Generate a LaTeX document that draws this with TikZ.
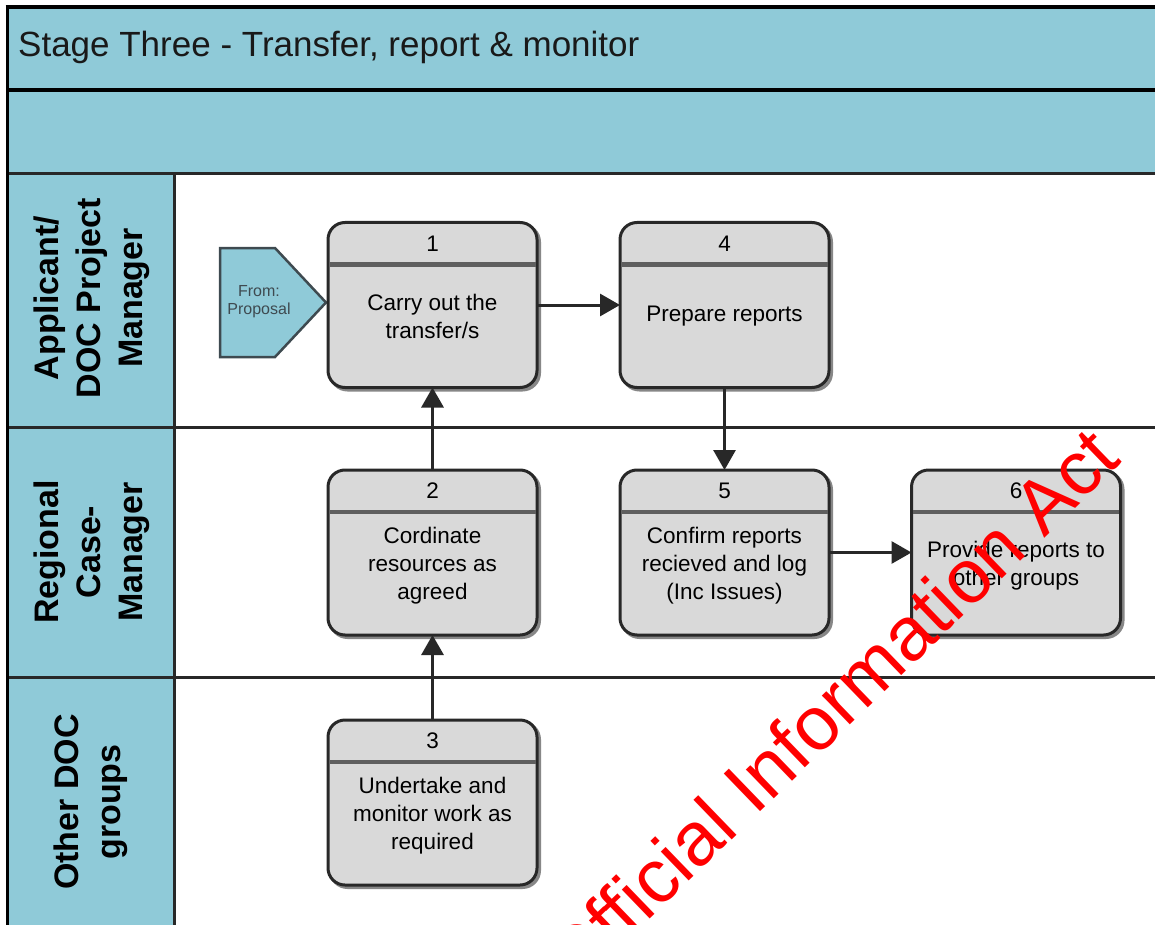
\documentclass[tikz,border=0pt]{standalone}
\usepackage{fontspec}
\setmainfont{Liberation Sans}
\usetikzlibrary{arrows.meta,calc,shadows}

\definecolor{laneblue}{RGB}{143,202,216}
\definecolor{boxgray}{RGB}{217,217,217}
\definecolor{edgedark}{RGB}{40,40,40}
\definecolor{divgray}{RGB}{95,95,95}
\definecolor{shadowgray}{RGB}{135,135,135}
\definecolor{srctext}{RGB}{62,74,80}

\tikzset{
  frame/.style={draw=black, line width=3.5pt},
  laneline/.style={draw=edgedark, line width=3pt},
  procbox/.style={draw=edgedark, fill=boxgray, line width=3pt, rounded corners=17pt,
    minimum width=209pt, minimum height=165pt, inner sep=0pt, outer sep=0pt,
    general shadow={shadow xshift=2.5pt, shadow yshift=-2.5pt, fill=shadowgray,
      draw=shadowgray, line width=3pt, rounded corners=17pt}},
  divider/.style={draw=divgray, line width=4.5pt},
  numtext/.style={font=\fontsize{22.5}{28}\selectfont, inner sep=0pt},
  bodytext/.style={font=\fontsize{22.5}{28}\selectfont, align=center, inner sep=0pt},
  flow/.style={draw=edgedark, line width=3pt, -{Triangle[length=20pt,width=22pt]}},
  lanelabel/.style={font=\fontsize{34}{42}\selectfont\bfseries, align=center,
    inner sep=0pt, rotate=90},
  srcshape/.style={draw=srctext, fill=laneblue, line width=2.5pt, line join=miter},
  srclabel/.style={font=\fontsize{16}{18}\selectfont, text=srctext, align=center, inner sep=0pt},
  watermark/.style={font=\fontsize{76}{80}\selectfont, text=red, inner sep=0pt}
}

\begin{document}
\begin{tikzpicture}[x=1pt,y=-1pt]
\useasboundingbox (0,0) rectangle (1155,925);
\begin{scope}
\clip (0,0) rectangle (1155,925);
\fill[white] (0,0) rectangle (1155,925);

% title bands and lane header column
\fill[laneblue] (7,7) rectangle (1160,173);
\fill[laneblue] (7,173) rectangle (174,930);

% swimlane grid
\draw[laneline] (7,173.5) -- (1160,173.5);
\draw[laneline] (7,427.5) -- (1160,427.5);
\draw[laneline] (7,677) -- (1160,677);
\draw[laneline] (174,173) -- (174,930);
\draw[frame] (7,90) -- (1160,90);
\draw[frame] (5.5,7) -- (1160,7);
\draw[frame] (7.5,5.5) -- (7.5,930);

% title
\node[font=\fontsize{35}{40}\selectfont, text=black!90, anchor=base west, inner sep=0pt]
  (title) at (18,57) {Stage Three - Transfer, report \& monitor};

% lane labels
\node[lanelabel] (laneA) at (92,298) {Applicant/\\DOC Project\\Manager};
\node[lanelabel] (laneB) at (92,552) {Regional\\Case-\\Manager};
\node[lanelabel] (laneC) at (91,802) {Other DOC\\groups};

% off-page connector from the proposal stage
\draw[srcshape] (220,248) coordinate (srcnw) -- (275,248) -- (326,302.5) coordinate (srctip)
  -- (275,357) -- (220,357) -- cycle;
\node[srclabel] (src) at (259,302) {From:\\Proposal};

% process steps
\node[procbox] (b1) at (432.5,305) {};
\node[procbox] (b4) at (724.5,305) {};
\node[procbox] (b2) at (432.5,552.5) {};
\node[procbox] (b5) at (724.5,552.5) {};
\node[procbox] (b6) at (1016,552.5) {};
\node[procbox] (b3) at (432.5,802.5) {};

\foreach \b in {b1,b2,b3,b4,b5,b6}{
  \draw[divider] ($(\b.north west)+(1.5,42)$) -- ($(\b.north east)+(-1.5,42)$);
}

\node[numtext] (n1) at ($(b1.north)+(0,21)$) {1};
\node[numtext] (n2) at ($(b2.north)+(0,21)$) {2};
\node[numtext] (n3) at ($(b3.north)+(0,21)$) {3};
\node[numtext] (n4) at ($(b4.north)+(0,21)$) {4};
\node[numtext] (n5) at ($(b5.north)+(0,21)$) {5};
\node[numtext] (n6) at ($(b6.north)+(0,21)$) {6};

\node[bodytext] (t1) at ($(b1.north)+(0,94)$) {Carry out the\\transfer/s};
\node[bodytext] (t4) at ($(b4.north)+(0,94)$) {Prepare reports};
\node[bodytext] (t2) at ($(b2.north)+(0,96)$) {Cordinate\\resources as\\agreed};
\node[bodytext] (t5) at ($(b5.north)+(0,96)$) {Confirm reports\\recieved and log\\(Inc Issues)};
\node[bodytext] (t6) at ($(b6.north)+(0,96)$) {Provide reports to\\other groups};
\node[bodytext] (t3) at ($(b3.north)+(0,96)$) {Undertake and\\monitor work as\\required};

% flow
\draw[flow] (b1.east) -- (b4.west);
\draw[flow] (b4.south) -- (b5.north);
\draw[flow] (b2.north) -- (b1.south);
\draw[flow] (b3.north) -- (b2.south);
\draw[flow] (b5.east) -- (b6.west);

% stamp
\node[watermark, rotate=44, anchor=base west] (wm) at (574,992) {Official Information Act};
\end{scope}
\end{tikzpicture}
\end{document}
